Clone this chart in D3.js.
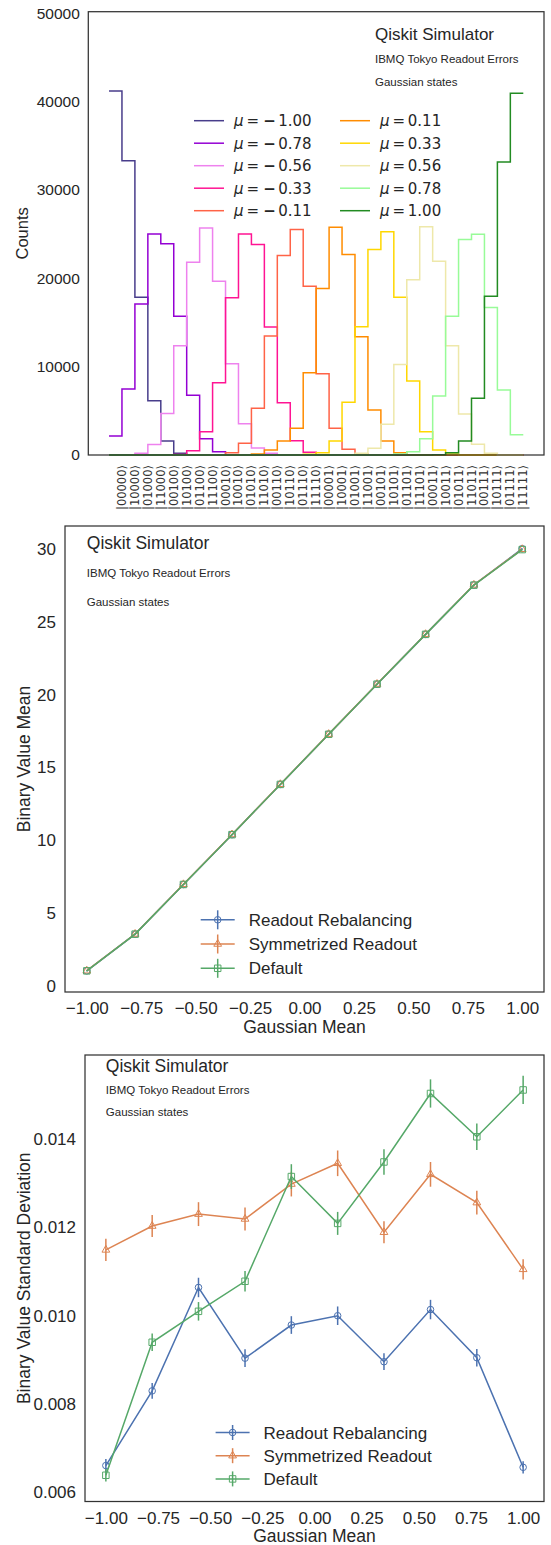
<!DOCTYPE html>
<html><head><meta charset="utf-8">
<script src="https://cdn.jsdelivr.net/npm/d3@7"></script>
<style>body{margin:0;background:#fff} svg{display:block}</style>
</head><body>
<svg id="chart" width="551" height="1545"></svg>
<script>
// ---------------- DATA ----------------
const states = ["|00000⟩","|10000⟩","|01000⟩","|11000⟩","|00100⟩","|10100⟩","|01100⟩","|11100⟩",
  "|00010⟩","|10010⟩","|01010⟩","|11010⟩","|00110⟩","|10110⟩","|01110⟩","|11110⟩",
  "|00001⟩","|10001⟩","|01001⟩","|11001⟩","|00101⟩","|10101⟩","|01101⟩","|11101⟩",
  "|00011⟩","|10011⟩","|01011⟩","|11011⟩","|00111⟩","|10111⟩","|01111⟩","|11111⟩"];
const muLabels = ["−1.00","−0.78","−0.56","−0.33","−0.11","0.11","0.33","0.56","0.78","1.00"];
const muColors = ["#483D8B","#9400D3","#EE82EE","#FF1493","#FF6347","#FF8C00","#FFD700","#EEE8AA","#98FB98","#228B22"];
const countsM100 = [41200,33300,17850,6150,1580,200,15,0,0,0,0,0,0,0,0,0,0,0,0,0,0,0,0,0,0,0,0,0,0,0,0,0];
const countsM078 = [2150,7460,17080,25030,23900,15720,6750,1850,380,40,0,0,0,0,0,0,0,0,0,0,0,0,0,0,0,0,0,0,0,0,0,0];
const countsM056 = [0,20,200,1200,4700,12360,21830,25700,19680,10330,3540,790,190,10,0,0,0,0,0,0,0,0,0,0,0,0,0,0,0,0,0,0];
const countsM033 = [0,0,0,0,0,60,490,2640,8180,17800,25030,23830,14480,5920,1620,300,40,0,0,0,0,0,0,0,0,0,0,0,0,0,0,0];
const countsM011 = [0,0,0,0,0,0,0,0,30,260,1320,5280,13460,22580,25520,19110,9200,3020,640,100,10,0,0,0,0,0,0,0,0,0,0,0];
const countsP011 = [0,0,0,0,0,0,0,0,0,0,20,100,570,1580,3020,9310,18850,25790,22690,13380,5090,1580,260,30,0,0,0,0,0,0,0,0];
const countsP033 = [0,0,0,0,0,0,0,0,0,0,0,0,0,0,10,80,260,1580,5960,14510,23260,25260,17870,8370,2640,570,100,0,0,0,0,0];
const countsP056 = [0,0,0,0,0,0,0,0,0,0,0,0,0,0,0,0,0,0,30,190,760,3470,10250,19830,25830,21940,12370,4640,1210,190,0,0];
const countsP078 = [0,0,0,0,0,0,0,0,0,0,0,0,0,0,0,0,0,0,0,0,0,0,100,380,1850,6670,15720,24390,25000,16700,7350,2300];
const countsP100 = [0,0,0,0,0,0,0,0,0,0,0,0,0,0,0,0,0,0,0,0,0,0,0,0,0,30,260,1580,6410,17980,33180,40940];
const countSeries = [countsM100,countsM078,countsM056,countsM033,countsM011,countsP011,countsP033,countsP056,countsP078,countsP100];
const countTicks = [0,10000,20000,30000,40000,50000];

const gaussMeans = [-1.0,-0.778,-0.556,-0.333,-0.111,0.111,0.333,0.556,0.778,1.0];
const meanRebal = [1.04,3.56,6.97,10.39,13.84,17.28,20.72,24.14,27.53,30.02];
const meanSym   = [1.05,3.57,6.98,10.40,13.85,17.29,20.73,24.15,27.54,29.98];
const meanDef   = [1.04,3.56,6.97,10.39,13.84,17.28,20.72,24.14,27.52,29.96];
const meanErr   = [0.02,0.02,0.02,0.02,0.02,0.02,0.02,0.02,0.02,0.02];
const stdRebal = [0.00661,0.00830,0.01064,0.00904,0.00979,0.01000,0.00896,0.01014,0.00905,0.00657];
const stdSym   = [0.01149,0.01203,0.01230,0.01219,0.01298,0.01345,0.01189,0.01320,0.01256,0.01105];
const stdDef   = [0.00639,0.00940,0.01010,0.01078,0.01315,0.01209,0.01348,0.01503,0.01405,0.01511];
const errRebal = [0.00015,0.00018,0.00022,0.00020,0.00020,0.00021,0.00019,0.00022,0.00020,0.00014];
const errSym   = [0.00025,0.00025,0.00027,0.00026,0.00028,0.00029,0.00025,0.00028,0.00027,0.00023];
const errDef   = [0.00014,0.00020,0.00021,0.00023,0.00028,0.00026,0.00029,0.00032,0.00030,0.00032];
const seriesNames = ["Readout Rebalancing","Symmetrized Readout","Default"];
const seriesColors = ["#4C72B0","#DD8452","#55A868"];
const gaussTicks = [-1,-0.75,-0.5,-0.25,0,0.25,0.5,0.75,1];
const meanTicks = [0,5,10,15,20,25,30];
const stdTicks = [0.006,0.008,0.010,0.012,0.014];
const annot = ["Qiskit Simulator","IBMQ Tokyo Readout Errors","Gaussian states"];

// ---------------- DRAW ----------------
const svg = d3.select("#chart");
const TXT = "#262626";
const SANS = "'Liberation Sans', Arial, Helvetica, sans-serif";
const DJV = "'DejaVu Sans', sans-serif";

function box(p){
  svg.append("rect").attr("x",p.left).attr("y",p.top)
    .attr("width",p.right-p.left).attr("height",p.bottom-p.top)
    .attr("fill","none").attr("stroke","#333").attr("stroke-width",1.25);
}
function styleAxis(g, size){
  g.select(".domain").remove();
  g.selectAll("text").attr("fill",TXT).style("font-family",SANS).style("font-size",size+"px");
}

// ===== Panel 1 =====
const p1 = {left:88.3,right:544,top:11.7,bottom:455};
const x1 = d3.scaleLinear().domain([-2.6,32.6]).range([p1.left,p1.right]);
const y1 = d3.scaleLinear().domain([0,50000]).range([455,13.3]);
const stepLine = d3.line().x(d=>x1(d[0])).y(d=>y1(d[1])).curve(d3.curveStepBefore);
countSeries.forEach((vals,k)=>{
  const pts = [[-1,vals[0]]].concat(vals.map((v,i)=>[i,v]));
  svg.append("path").attr("d",stepLine(pts)).attr("fill","none")
    .attr("stroke",muColors[k]).attr("stroke-width",1.5);
});
box(p1);
const ya1 = svg.append("g").attr("transform",`translate(${p1.left},0)`)
  .call(d3.axisLeft(y1).tickValues(countTicks).tickSize(0).tickPadding(8.5).tickFormat(d3.format("d")));
styleAxis(ya1,15.5);
svg.append("g").selectAll("text").data(states).join("text")
  .attr("transform",(d,i)=>`translate(${x1(i)+4},465) rotate(-90)`)
  .attr("text-anchor","end").attr("fill","#333")
  .style("font-family",DJV).style("font-size","11.5px").text(d=>d);
svg.append("text").attr("transform",`translate(28,${(p1.top+p1.bottom)/2}) rotate(-90)`)
  .attr("text-anchor","middle").attr("fill",TXT).style("font-family",SANS).style("font-size","16.5px").text("Counts");
// annotations
svg.append("text").attr("x",375).attr("y",40).attr("fill",TXT).style("font-family",SANS).style("font-size","17px").text(annot[0]);
svg.append("text").attr("x",375).attr("y",63).attr("fill",TXT).style("font-family",SANS).style("font-size","11.5px").text(annot[1]);
svg.append("text").attr("x",375).attr("y",86).attr("fill",TXT).style("font-family",SANS).style("font-size","11.5px").text(annot[2]);
// legend
muLabels.forEach((lab,k)=>{
  const col = Math.floor(k/5), row = k%5;
  const lx = col===0 ? 194 : 340;
  const tx = col===0 ? 234 : 380;
  const cy = 120.7 + row*22.5;
  svg.append("line").attr("x1",lx).attr("x2",lx+30).attr("y1",cy).attr("y2",cy)
    .attr("stroke",muColors[k]).attr("stroke-width",1.5);
  const t = svg.append("text").attr("x",tx).attr("y",cy+5.5).attr("fill",TXT)
    .style("font-family",DJV).style("font-size","15px");
  t.append("tspan").style("font-style","italic").text("μ");
  t.append("tspan").attr("dx",3).text("=");
  if(lab.startsWith("−")){
    t.append("tspan").attr("dx",4).style("font-weight","bold").text("−");
    t.append("tspan").attr("dx",2.5).text(lab.slice(1));
  } else {
    t.append("tspan").attr("dx",2.7).text(lab);
  }
});

// ===== Panels 2 and 3 (errorbar plots) =====
const symbols = [d3.symbolCircle,d3.symbolTriangle,d3.symbolSquare];
const symSizes = [34,26,42];
function errPanel(p, x, y, means, errs, yTicks, yFmt, ylabel, annY, legY, legX, legBar){
  const line = d3.line().x((d,i)=>x(gaussMeans[i])).y(d=>y(d));
  means.forEach((vals,s)=>{
    const c = seriesColors[s];
    svg.append("path").attr("d",line(vals)).attr("fill","none").attr("stroke",c).attr("stroke-width",1.5);
    const g = svg.append("g");
    g.selectAll("line").data(vals).join("line")
      .attr("x1",(d,i)=>x(gaussMeans[i])).attr("x2",(d,i)=>x(gaussMeans[i]))
      .attr("y1",(d,i)=>y(d-errs[s][i])).attr("y2",(d,i)=>y(d+errs[s][i]))
      .attr("stroke",c).attr("stroke-width",1.5);
    g.selectAll("path").data(vals).join("path")
      .attr("d",d3.symbol().type(symbols[s]).size(symSizes[s]))
      .attr("transform",(d,i)=>`translate(${x(gaussMeans[i])},${y(d)})`)
      .attr("fill","none").attr("stroke",c).attr("stroke-width",1);
  });
  box(p);
  const ya = svg.append("g").attr("transform",`translate(${p.left},0)`)
    .call(d3.axisLeft(y).tickValues(yTicks).tickSize(0).tickPadding(9).tickFormat(yFmt));
  styleAxis(ya,17);
  const xa = svg.append("g").attr("transform",`translate(0,${p.bottom})`)
    .call(d3.axisBottom(x).tickValues(gaussTicks).tickSize(0).tickPadding(10).tickFormat(d3.format(".2f")));
  styleAxis(xa,17);
  svg.append("text").attr("x",(p.left+p.right)/2).attr("y",p.bottom+40.5).attr("text-anchor","middle")
    .attr("fill",TXT).style("font-family",SANS).style("font-size","17.5px").text("Gaussian Mean");
  svg.append("text").attr("transform",`translate(30.3,${(p.top+p.bottom)/2}) rotate(-90)`)
    .attr("text-anchor","middle").attr("fill",TXT).style("font-family",SANS).style("font-size","17.5px").text(ylabel);
  const ax = x(-1);
  svg.append("text").attr("x",ax).attr("y",annY[0]).attr("fill",TXT).style("font-family",SANS).style("font-size","17.5px").text(annot[0]);
  svg.append("text").attr("x",ax).attr("y",annY[1]).attr("fill",TXT).style("font-family",SANS).style("font-size","11.5px").text(annot[1]);
  svg.append("text").attr("x",ax).attr("y",annY[2]).attr("fill",TXT).style("font-family",SANS).style("font-size","11.5px").text(annot[2]);
  seriesNames.forEach((nm,s)=>{
    const cy = legY[s], c = seriesColors[s];
    const mx = legX + 17;
    svg.append("line").attr("x1",legX).attr("x2",legX+34).attr("y1",cy).attr("y2",cy).attr("stroke",c).attr("stroke-width",1.5);
    svg.append("line").attr("x1",mx).attr("x2",mx).attr("y1",cy-legBar).attr("y2",cy+legBar).attr("stroke",c).attr("stroke-width",1.5);
    svg.append("path").attr("d",d3.symbol().type(symbols[s]).size(symSizes[s])()).attr("transform",`translate(${mx},${cy})`)
      .attr("fill","none").attr("stroke",c).attr("stroke-width",1);
    svg.append("text").attr("x",legX+48).attr("y",cy+6.1).attr("fill",TXT)
      .style("font-family",SANS).style("font-size","17px").text(nm);
  });
}

const p2 = {left:65,right:544,top:526,bottom:992};
const x2 = d3.scaleLinear().domain([-1.1,1.1]).range([p2.left,p2.right]);
const y2 = d3.scaleLinear().domain([0,30]).range([986,549]);
errPanel(p2,x2,y2,[meanRebal,meanSym,meanDef],[meanErr,meanErr,meanErr],meanTicks,d3.format("d"),
  "Binary Value Mean",[549,577,606],[919.8,944,968.3],200.7,9.5);

const p3 = {left:85,right:544,top:1055,bottom:1501.5};
const x3 = d3.scaleLinear().domain([-1.1,1.1]).range([p3.left,p3.right]);
const y3 = d3.scaleLinear().domain([0.006,0.014]).range([1492.5,1139]);
errPanel(p3,x3,y3,[stdRebal,stdSym,stdDef],[errRebal,errSym,errDef],stdTicks,d3.format(".3f"),
  "Binary Value Standard Deviation",[1072,1094,1116],[1432.5,1455.7,1478.9],215.6,7.5);
</script>
</body></html>
